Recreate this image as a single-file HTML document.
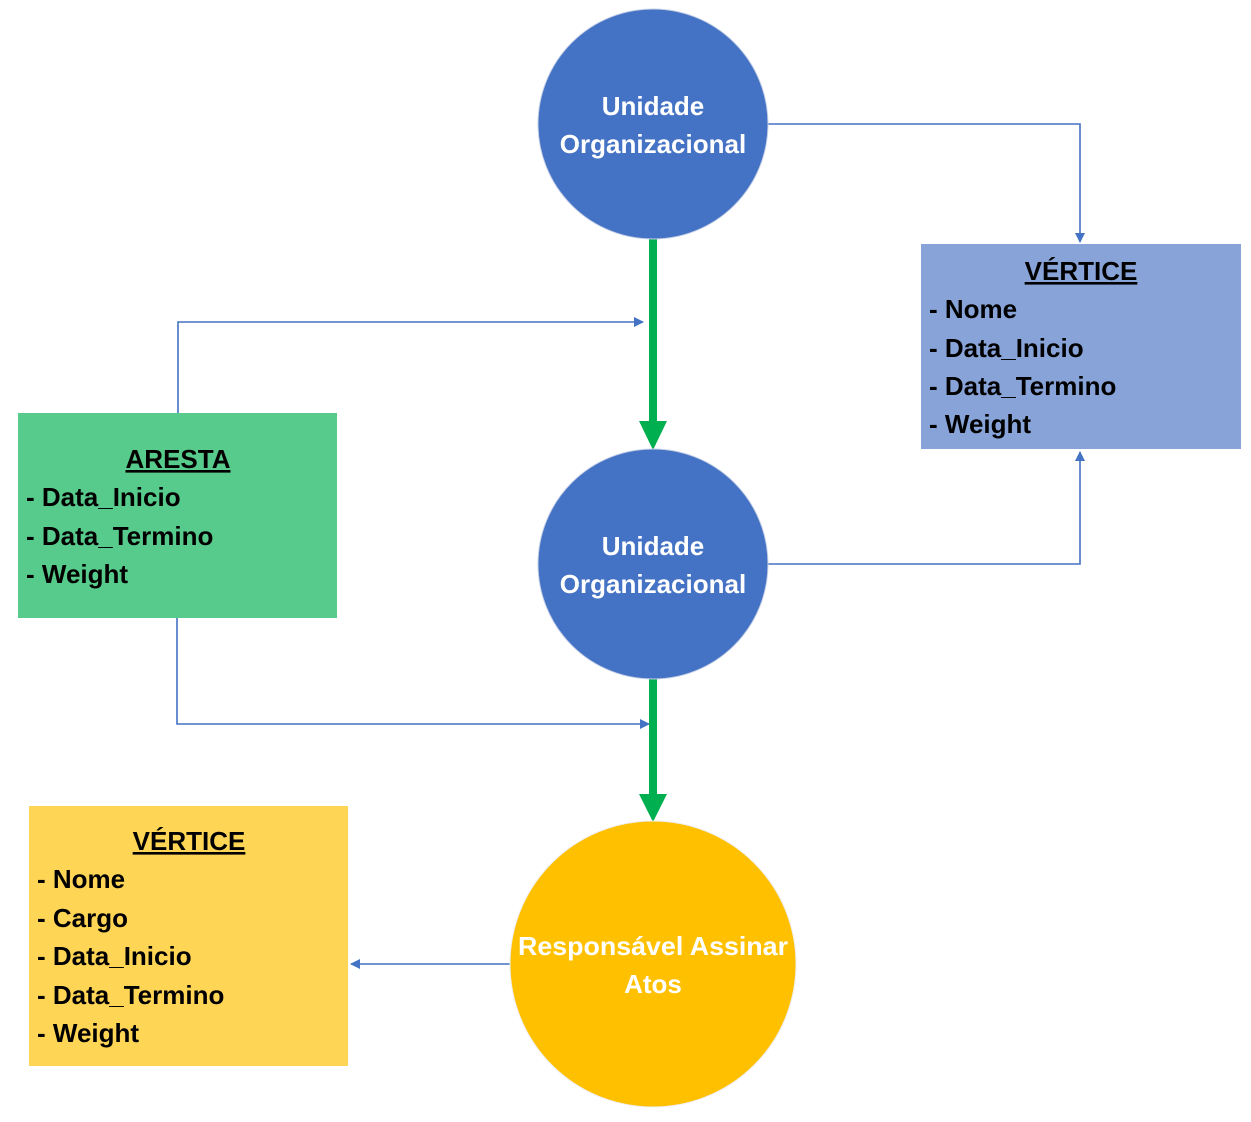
<!DOCTYPE html>
<html><head><meta charset="utf-8"><style>
body{margin:0;background:#fff;width:1251px;height:1117px;overflow:hidden}
svg text{font-family:"Liberation Sans",sans-serif;font-weight:bold}
</style></head><body>
<svg width="1251" height="1117" viewBox="0 0 1251 1117">
<defs>
<marker id="a" markerWidth="10" markerHeight="10" refX="9" refY="5" orient="auto" markerUnits="userSpaceOnUse"><path d="M0,0 L10,5 L0,10 Z" fill="#4472c4"/></marker>
</defs>
<g stroke="#4472c4" stroke-width="1.6" fill="none">
<polyline points="768,124 1080,124 1080,242" marker-end="url(#a)"/>
<polyline points="768,564 1080,564 1080,452" marker-end="url(#a)"/>
<polyline points="178,413 178,322 643,322" marker-end="url(#a)"/>
<polyline points="177,618 177,724 649,724" marker-end="url(#a)"/>
<polyline points="510,964 351,964" marker-end="url(#a)"/>
</g>
<rect x="649" y="236" width="8" height="188" fill="#00b050"/>
<path d="M639,421 L667,421 L653,450 Z" fill="#00b050"/>
<rect x="649" y="676" width="8" height="120" fill="#00b050"/>
<path d="M639,794 L667,794 L653,822 Z" fill="#00b050"/>
<circle cx="653" cy="124" r="115" fill="#4472c4" stroke="#c5cfe6" stroke-width="1"/>
<circle cx="653" cy="564" r="115" fill="#4472c4" stroke="#c5cfe6" stroke-width="1"/>
<circle cx="653" cy="964" r="143" fill="#ffc000" stroke="#eee" stroke-width="1"/>
<g fill="#fff" font-size="26" text-anchor="middle">
<text x="653" y="115">Unidade</text><text x="653" y="153">Organizacional</text>
<text x="653" y="555">Unidade</text><text x="653" y="593">Organizacional</text>
<text x="653" y="955" textLength="270" lengthAdjust="spacingAndGlyphs">Responsável Assinar</text><text x="653" y="993">Atos</text>
</g>
<rect x="921" y="244" width="320" height="205" fill="#87a3d8"/>
<rect x="18" y="413" width="319" height="205" fill="#57cb8c"/>
<rect x="29" y="806" width="319" height="260" fill="#ffd555"/>
<g fill="#000" font-size="26">
<text x="1081" y="280" text-anchor="middle" text-decoration="underline">VÉRTICE</text>
<text x="929" y="318">- Nome</text><text x="929" y="357">- Data_Inicio</text><text x="929" y="395">- Data_Termino</text><text x="929" y="433">- Weight</text>
<text x="178" y="468" text-anchor="middle" text-decoration="underline">ARESTA</text>
<text x="26" y="506">- Data_Inicio</text><text x="26" y="545">- Data_Termino</text><text x="26" y="583">- Weight</text>
<text x="189" y="850" text-anchor="middle" text-decoration="underline">VÉRTICE</text>
<text x="37" y="888">- Nome</text><text x="37" y="927">- Cargo</text><text x="37" y="965">- Data_Inicio</text><text x="37" y="1004">- Data_Termino</text><text x="37" y="1042">- Weight</text>
</g>
</svg>
</body></html>
